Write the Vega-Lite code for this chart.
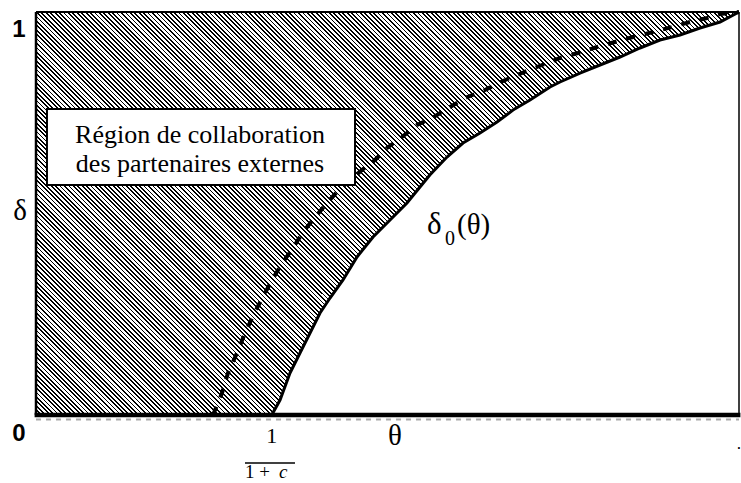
{
"$schema": "https://vega.github.io/schema/vega-lite/v6.json",
"width": 703,
"height": 403,
"autosize": {"type": "none"},
"padding": {"left": 36, "top": 12, "right": 2, "bottom": 68},
"background": "white",
"config": {"view": {"stroke": null}},
"datasets": {
"boundary": [{"theta":0,"d0":0},{"theta":0.3353,"d0":0},{"theta":0.3471,"d0":0.0372},{"theta":0.3613,"d0":0.1042},{"theta":0.3755,"d0":0.1538},{"theta":0.3898,"d0":0.2035},{"theta":0.404,"d0":0.2531},{"theta":0.4182,"d0":0.2903},{"theta":0.4367,"d0":0.335},{"theta":0.4566,"d0":0.3921},{"theta":0.4794,"d0":0.4417},{"theta":0.5036,"d0":0.4839},{"theta":0.5277,"d0":0.5261},{"theta":0.5462,"d0":0.5658},{"theta":0.5605,"d0":0.596},{"theta":0.5846,"d0":0.6402},{"theta":0.6074,"d0":0.6749},{"theta":0.6316,"d0":0.6998},{"theta":0.6558,"d0":0.727},{"theta":0.6785,"d0":0.7568},{"theta":0.7027,"d0":0.7816},{"theta":0.7312,"d0":0.8139},{"theta":0.7454,"d0":0.8263},{"theta":0.7738,"d0":0.8486},{"theta":0.8023,"d0":0.8685},{"theta":0.8307,"d0":0.8883},{"theta":0.8592,"d0":0.9107},{"theta":0.8876,"d0":0.9305},{"theta":0.9161,"d0":0.9429},{"theta":0.9445,"d0":0.9603},{"theta":0.973,"d0":0.9752},{"theta":1,"d0":1}],
"dashed": [{"theta":0.2518,"d":0},{"theta":0.2646,"d":0.0546},{"theta":0.2731,"d":0.1042},{"theta":0.2859,"d":0.1538},{"theta":0.2973,"d":0.2035},{"theta":0.3115,"d":0.2556},{"theta":0.3257,"d":0.3027},{"theta":0.34,"d":0.3474},{"theta":0.3514,"d":0.3797},{"theta":0.3656,"d":0.4144},{"theta":0.3798,"d":0.4541},{"theta":0.3997,"d":0.4963},{"theta":0.4139,"d":0.5261},{"theta":0.4282,"d":0.5533},{"theta":0.4467,"d":0.5831},{"theta":0.4637,"d":0.6079},{"theta":0.4822,"d":0.6328},{"theta":0.4993,"d":0.6625},{"theta":0.5206,"d":0.6898},{"theta":0.542,"d":0.7196},{"theta":0.5633,"d":0.737},{"theta":0.5846,"d":0.7593},{"theta":0.6102,"d":0.7866},{"theta":0.6387,"d":0.8065},{"theta":0.6643,"d":0.8288},{"theta":0.6913,"d":0.8486},{"theta":0.7198,"d":0.8685},{"theta":0.7454,"d":0.8859},{"theta":0.771,"d":0.8983},{"theta":0.798,"d":0.9132},{"theta":0.8236,"d":0.9256},{"theta":0.8492,"d":0.938},{"theta":0.8777,"d":0.9504},{"theta":0.9047,"d":0.9628},{"theta":0.9303,"d":0.9752},{"theta":0.9545,"d":0.9851},{"theta":0.973,"d":0.995},{"theta":1,"d":1}]
},
"layer": [
{
"data": {"name": "boundary"},
"mark": {"type": "area", "opacity": 1, "fillOpacity": 1, "strokeWidth": 0, "interpolate": "linear",
"fill": {"gradient": "linear", "x1": 0, "y1": 1, "x2": 1.1841, "y2": 0.3212, "stops": [
{"offset":0,"color":"#000"},
{"offset":0.0016,"color":"#000"},{"offset":0.0016,"color":"#fff"},{"offset":0.004,"color":"#fff"},{"offset":0.004,"color":"#000"},{"offset":0.0056,"color":"#000"},{"offset":0.0056,"color":"#fff"},{"offset":0.008,"color":"#fff"},{"offset":0.008,"color":"#000"},{"offset":0.0096,"color":"#000"},{"offset":0.0096,"color":"#fff"},{"offset":0.012,"color":"#fff"},{"offset":0.012,"color":"#000"},{"offset":0.0136,"color":"#000"},{"offset":0.0136,"color":"#fff"},{"offset":0.016,"color":"#fff"},{"offset":0.016,"color":"#000"},{"offset":0.0176,"color":"#000"},{"offset":0.0176,"color":"#fff"},{"offset":0.02,"color":"#fff"},{"offset":0.02,"color":"#000"},
{"offset":0.0216,"color":"#000"},{"offset":0.0216,"color":"#fff"},{"offset":0.024,"color":"#fff"},{"offset":0.024,"color":"#000"},{"offset":0.0256,"color":"#000"},{"offset":0.0256,"color":"#fff"},{"offset":0.028,"color":"#fff"},{"offset":0.028,"color":"#000"},{"offset":0.0296,"color":"#000"},{"offset":0.0296,"color":"#fff"},{"offset":0.032,"color":"#fff"},{"offset":0.032,"color":"#000"},{"offset":0.0336,"color":"#000"},{"offset":0.0336,"color":"#fff"},{"offset":0.036,"color":"#fff"},{"offset":0.036,"color":"#000"},{"offset":0.0376,"color":"#000"},{"offset":0.0376,"color":"#fff"},{"offset":0.04,"color":"#fff"},{"offset":0.04,"color":"#000"},
{"offset":0.0416,"color":"#000"},{"offset":0.0416,"color":"#fff"},{"offset":0.044,"color":"#fff"},{"offset":0.044,"color":"#000"},{"offset":0.0456,"color":"#000"},{"offset":0.0456,"color":"#fff"},{"offset":0.048,"color":"#fff"},{"offset":0.048,"color":"#000"},{"offset":0.0496,"color":"#000"},{"offset":0.0496,"color":"#fff"},{"offset":0.052,"color":"#fff"},{"offset":0.052,"color":"#000"},{"offset":0.0536,"color":"#000"},{"offset":0.0536,"color":"#fff"},{"offset":0.056,"color":"#fff"},{"offset":0.056,"color":"#000"},{"offset":0.0576,"color":"#000"},{"offset":0.0576,"color":"#fff"},{"offset":0.06,"color":"#fff"},{"offset":0.06,"color":"#000"},
{"offset":0.0616,"color":"#000"},{"offset":0.0616,"color":"#fff"},{"offset":0.064,"color":"#fff"},{"offset":0.064,"color":"#000"},{"offset":0.0656,"color":"#000"},{"offset":0.0656,"color":"#fff"},{"offset":0.068,"color":"#fff"},{"offset":0.068,"color":"#000"},{"offset":0.0696,"color":"#000"},{"offset":0.0696,"color":"#fff"},{"offset":0.072,"color":"#fff"},{"offset":0.072,"color":"#000"},{"offset":0.0736,"color":"#000"},{"offset":0.0736,"color":"#fff"},{"offset":0.076,"color":"#fff"},{"offset":0.076,"color":"#000"},{"offset":0.0776,"color":"#000"},{"offset":0.0776,"color":"#fff"},{"offset":0.08,"color":"#fff"},{"offset":0.08,"color":"#000"},
{"offset":0.0816,"color":"#000"},{"offset":0.0816,"color":"#fff"},{"offset":0.084,"color":"#fff"},{"offset":0.084,"color":"#000"},{"offset":0.0856,"color":"#000"},{"offset":0.0856,"color":"#fff"},{"offset":0.088,"color":"#fff"},{"offset":0.088,"color":"#000"},{"offset":0.0896,"color":"#000"},{"offset":0.0896,"color":"#fff"},{"offset":0.092,"color":"#fff"},{"offset":0.092,"color":"#000"},{"offset":0.0936,"color":"#000"},{"offset":0.0936,"color":"#fff"},{"offset":0.096,"color":"#fff"},{"offset":0.096,"color":"#000"},{"offset":0.0976,"color":"#000"},{"offset":0.0976,"color":"#fff"},{"offset":0.1,"color":"#fff"},{"offset":0.1,"color":"#000"},
{"offset":0.1016,"color":"#000"},{"offset":0.1016,"color":"#fff"},{"offset":0.104,"color":"#fff"},{"offset":0.104,"color":"#000"},{"offset":0.1056,"color":"#000"},{"offset":0.1056,"color":"#fff"},{"offset":0.108,"color":"#fff"},{"offset":0.108,"color":"#000"},{"offset":0.1096,"color":"#000"},{"offset":0.1096,"color":"#fff"},{"offset":0.112,"color":"#fff"},{"offset":0.112,"color":"#000"},{"offset":0.1136,"color":"#000"},{"offset":0.1136,"color":"#fff"},{"offset":0.116,"color":"#fff"},{"offset":0.116,"color":"#000"},{"offset":0.1176,"color":"#000"},{"offset":0.1176,"color":"#fff"},{"offset":0.12,"color":"#fff"},{"offset":0.12,"color":"#000"},
{"offset":0.1216,"color":"#000"},{"offset":0.1216,"color":"#fff"},{"offset":0.124,"color":"#fff"},{"offset":0.124,"color":"#000"},{"offset":0.1256,"color":"#000"},{"offset":0.1256,"color":"#fff"},{"offset":0.128,"color":"#fff"},{"offset":0.128,"color":"#000"},{"offset":0.1296,"color":"#000"},{"offset":0.1296,"color":"#fff"},{"offset":0.132,"color":"#fff"},{"offset":0.132,"color":"#000"},{"offset":0.1336,"color":"#000"},{"offset":0.1336,"color":"#fff"},{"offset":0.136,"color":"#fff"},{"offset":0.136,"color":"#000"},{"offset":0.1376,"color":"#000"},{"offset":0.1376,"color":"#fff"},{"offset":0.14,"color":"#fff"},{"offset":0.14,"color":"#000"},
{"offset":0.1416,"color":"#000"},{"offset":0.1416,"color":"#fff"},{"offset":0.144,"color":"#fff"},{"offset":0.144,"color":"#000"},{"offset":0.1456,"color":"#000"},{"offset":0.1456,"color":"#fff"},{"offset":0.148,"color":"#fff"},{"offset":0.148,"color":"#000"},{"offset":0.1496,"color":"#000"},{"offset":0.1496,"color":"#fff"},{"offset":0.152,"color":"#fff"},{"offset":0.152,"color":"#000"},{"offset":0.1536,"color":"#000"},{"offset":0.1536,"color":"#fff"},{"offset":0.156,"color":"#fff"},{"offset":0.156,"color":"#000"},{"offset":0.1576,"color":"#000"},{"offset":0.1576,"color":"#fff"},{"offset":0.16,"color":"#fff"},{"offset":0.16,"color":"#000"},
{"offset":0.1616,"color":"#000"},{"offset":0.1616,"color":"#fff"},{"offset":0.164,"color":"#fff"},{"offset":0.164,"color":"#000"},{"offset":0.1656,"color":"#000"},{"offset":0.1656,"color":"#fff"},{"offset":0.168,"color":"#fff"},{"offset":0.168,"color":"#000"},{"offset":0.1696,"color":"#000"},{"offset":0.1696,"color":"#fff"},{"offset":0.172,"color":"#fff"},{"offset":0.172,"color":"#000"},{"offset":0.1736,"color":"#000"},{"offset":0.1736,"color":"#fff"},{"offset":0.176,"color":"#fff"},{"offset":0.176,"color":"#000"},{"offset":0.1776,"color":"#000"},{"offset":0.1776,"color":"#fff"},{"offset":0.18,"color":"#fff"},{"offset":0.18,"color":"#000"},
{"offset":0.1816,"color":"#000"},{"offset":0.1816,"color":"#fff"},{"offset":0.184,"color":"#fff"},{"offset":0.184,"color":"#000"},{"offset":0.1856,"color":"#000"},{"offset":0.1856,"color":"#fff"},{"offset":0.188,"color":"#fff"},{"offset":0.188,"color":"#000"},{"offset":0.1896,"color":"#000"},{"offset":0.1896,"color":"#fff"},{"offset":0.192,"color":"#fff"},{"offset":0.192,"color":"#000"},{"offset":0.1936,"color":"#000"},{"offset":0.1936,"color":"#fff"},{"offset":0.196,"color":"#fff"},{"offset":0.196,"color":"#000"},{"offset":0.1976,"color":"#000"},{"offset":0.1976,"color":"#fff"},{"offset":0.2,"color":"#fff"},{"offset":0.2,"color":"#000"},
{"offset":0.2016,"color":"#000"},{"offset":0.2016,"color":"#fff"},{"offset":0.204,"color":"#fff"},{"offset":0.204,"color":"#000"},{"offset":0.2056,"color":"#000"},{"offset":0.2056,"color":"#fff"},{"offset":0.208,"color":"#fff"},{"offset":0.208,"color":"#000"},{"offset":0.2096,"color":"#000"},{"offset":0.2096,"color":"#fff"},{"offset":0.212,"color":"#fff"},{"offset":0.212,"color":"#000"},{"offset":0.2136,"color":"#000"},{"offset":0.2136,"color":"#fff"},{"offset":0.216,"color":"#fff"},{"offset":0.216,"color":"#000"},{"offset":0.2176,"color":"#000"},{"offset":0.2176,"color":"#fff"},{"offset":0.22,"color":"#fff"},{"offset":0.22,"color":"#000"},
{"offset":0.2216,"color":"#000"},{"offset":0.2216,"color":"#fff"},{"offset":0.224,"color":"#fff"},{"offset":0.224,"color":"#000"},{"offset":0.2256,"color":"#000"},{"offset":0.2256,"color":"#fff"},{"offset":0.228,"color":"#fff"},{"offset":0.228,"color":"#000"},{"offset":0.2296,"color":"#000"},{"offset":0.2296,"color":"#fff"},{"offset":0.232,"color":"#fff"},{"offset":0.232,"color":"#000"},{"offset":0.2336,"color":"#000"},{"offset":0.2336,"color":"#fff"},{"offset":0.236,"color":"#fff"},{"offset":0.236,"color":"#000"},{"offset":0.2376,"color":"#000"},{"offset":0.2376,"color":"#fff"},{"offset":0.24,"color":"#fff"},{"offset":0.24,"color":"#000"},
{"offset":0.2416,"color":"#000"},{"offset":0.2416,"color":"#fff"},{"offset":0.244,"color":"#fff"},{"offset":0.244,"color":"#000"},{"offset":0.2456,"color":"#000"},{"offset":0.2456,"color":"#fff"},{"offset":0.248,"color":"#fff"},{"offset":0.248,"color":"#000"},{"offset":0.2496,"color":"#000"},{"offset":0.2496,"color":"#fff"},{"offset":0.252,"color":"#fff"},{"offset":0.252,"color":"#000"},{"offset":0.2536,"color":"#000"},{"offset":0.2536,"color":"#fff"},{"offset":0.256,"color":"#fff"},{"offset":0.256,"color":"#000"},{"offset":0.2576,"color":"#000"},{"offset":0.2576,"color":"#fff"},{"offset":0.26,"color":"#fff"},{"offset":0.26,"color":"#000"},
{"offset":0.2616,"color":"#000"},{"offset":0.2616,"color":"#fff"},{"offset":0.264,"color":"#fff"},{"offset":0.264,"color":"#000"},{"offset":0.2656,"color":"#000"},{"offset":0.2656,"color":"#fff"},{"offset":0.268,"color":"#fff"},{"offset":0.268,"color":"#000"},{"offset":0.2696,"color":"#000"},{"offset":0.2696,"color":"#fff"},{"offset":0.272,"color":"#fff"},{"offset":0.272,"color":"#000"},{"offset":0.2736,"color":"#000"},{"offset":0.2736,"color":"#fff"},{"offset":0.276,"color":"#fff"},{"offset":0.276,"color":"#000"},{"offset":0.2776,"color":"#000"},{"offset":0.2776,"color":"#fff"},{"offset":0.28,"color":"#fff"},{"offset":0.28,"color":"#000"},
{"offset":0.2816,"color":"#000"},{"offset":0.2816,"color":"#fff"},{"offset":0.284,"color":"#fff"},{"offset":0.284,"color":"#000"},{"offset":0.2856,"color":"#000"},{"offset":0.2856,"color":"#fff"},{"offset":0.288,"color":"#fff"},{"offset":0.288,"color":"#000"},{"offset":0.2896,"color":"#000"},{"offset":0.2896,"color":"#fff"},{"offset":0.292,"color":"#fff"},{"offset":0.292,"color":"#000"},{"offset":0.2936,"color":"#000"},{"offset":0.2936,"color":"#fff"},{"offset":0.296,"color":"#fff"},{"offset":0.296,"color":"#000"},{"offset":0.2976,"color":"#000"},{"offset":0.2976,"color":"#fff"},{"offset":0.3,"color":"#fff"},{"offset":0.3,"color":"#000"},
{"offset":0.3016,"color":"#000"},{"offset":0.3016,"color":"#fff"},{"offset":0.304,"color":"#fff"},{"offset":0.304,"color":"#000"},{"offset":0.3056,"color":"#000"},{"offset":0.3056,"color":"#fff"},{"offset":0.308,"color":"#fff"},{"offset":0.308,"color":"#000"},{"offset":0.3096,"color":"#000"},{"offset":0.3096,"color":"#fff"},{"offset":0.312,"color":"#fff"},{"offset":0.312,"color":"#000"},{"offset":0.3136,"color":"#000"},{"offset":0.3136,"color":"#fff"},{"offset":0.316,"color":"#fff"},{"offset":0.316,"color":"#000"},{"offset":0.3176,"color":"#000"},{"offset":0.3176,"color":"#fff"},{"offset":0.32,"color":"#fff"},{"offset":0.32,"color":"#000"},
{"offset":0.3216,"color":"#000"},{"offset":0.3216,"color":"#fff"},{"offset":0.324,"color":"#fff"},{"offset":0.324,"color":"#000"},{"offset":0.3256,"color":"#000"},{"offset":0.3256,"color":"#fff"},{"offset":0.328,"color":"#fff"},{"offset":0.328,"color":"#000"},{"offset":0.3296,"color":"#000"},{"offset":0.3296,"color":"#fff"},{"offset":0.332,"color":"#fff"},{"offset":0.332,"color":"#000"},{"offset":0.3336,"color":"#000"},{"offset":0.3336,"color":"#fff"},{"offset":0.336,"color":"#fff"},{"offset":0.336,"color":"#000"},{"offset":0.3376,"color":"#000"},{"offset":0.3376,"color":"#fff"},{"offset":0.34,"color":"#fff"},{"offset":0.34,"color":"#000"},
{"offset":0.3416,"color":"#000"},{"offset":0.3416,"color":"#fff"},{"offset":0.344,"color":"#fff"},{"offset":0.344,"color":"#000"},{"offset":0.3456,"color":"#000"},{"offset":0.3456,"color":"#fff"},{"offset":0.348,"color":"#fff"},{"offset":0.348,"color":"#000"},{"offset":0.3496,"color":"#000"},{"offset":0.3496,"color":"#fff"},{"offset":0.352,"color":"#fff"},{"offset":0.352,"color":"#000"},{"offset":0.3536,"color":"#000"},{"offset":0.3536,"color":"#fff"},{"offset":0.356,"color":"#fff"},{"offset":0.356,"color":"#000"},{"offset":0.3576,"color":"#000"},{"offset":0.3576,"color":"#fff"},{"offset":0.36,"color":"#fff"},{"offset":0.36,"color":"#000"},
{"offset":0.3616,"color":"#000"},{"offset":0.3616,"color":"#fff"},{"offset":0.364,"color":"#fff"},{"offset":0.364,"color":"#000"},{"offset":0.3656,"color":"#000"},{"offset":0.3656,"color":"#fff"},{"offset":0.368,"color":"#fff"},{"offset":0.368,"color":"#000"},{"offset":0.3696,"color":"#000"},{"offset":0.3696,"color":"#fff"},{"offset":0.372,"color":"#fff"},{"offset":0.372,"color":"#000"},{"offset":0.3736,"color":"#000"},{"offset":0.3736,"color":"#fff"},{"offset":0.376,"color":"#fff"},{"offset":0.376,"color":"#000"},{"offset":0.3776,"color":"#000"},{"offset":0.3776,"color":"#fff"},{"offset":0.38,"color":"#fff"},{"offset":0.38,"color":"#000"},
{"offset":0.3816,"color":"#000"},{"offset":0.3816,"color":"#fff"},{"offset":0.384,"color":"#fff"},{"offset":0.384,"color":"#000"},{"offset":0.3856,"color":"#000"},{"offset":0.3856,"color":"#fff"},{"offset":0.388,"color":"#fff"},{"offset":0.388,"color":"#000"},{"offset":0.3896,"color":"#000"},{"offset":0.3896,"color":"#fff"},{"offset":0.392,"color":"#fff"},{"offset":0.392,"color":"#000"},{"offset":0.3936,"color":"#000"},{"offset":0.3936,"color":"#fff"},{"offset":0.396,"color":"#fff"},{"offset":0.396,"color":"#000"},{"offset":0.3976,"color":"#000"},{"offset":0.3976,"color":"#fff"},{"offset":0.4,"color":"#fff"},{"offset":0.4,"color":"#000"},
{"offset":0.4016,"color":"#000"},{"offset":0.4016,"color":"#fff"},{"offset":0.404,"color":"#fff"},{"offset":0.404,"color":"#000"},{"offset":0.4056,"color":"#000"},{"offset":0.4056,"color":"#fff"},{"offset":0.408,"color":"#fff"},{"offset":0.408,"color":"#000"},{"offset":0.4096,"color":"#000"},{"offset":0.4096,"color":"#fff"},{"offset":0.412,"color":"#fff"},{"offset":0.412,"color":"#000"},{"offset":0.4136,"color":"#000"},{"offset":0.4136,"color":"#fff"},{"offset":0.416,"color":"#fff"},{"offset":0.416,"color":"#000"},{"offset":0.4176,"color":"#000"},{"offset":0.4176,"color":"#fff"},{"offset":0.42,"color":"#fff"},{"offset":0.42,"color":"#000"},
{"offset":0.4216,"color":"#000"},{"offset":0.4216,"color":"#fff"},{"offset":0.424,"color":"#fff"},{"offset":0.424,"color":"#000"},{"offset":0.4256,"color":"#000"},{"offset":0.4256,"color":"#fff"},{"offset":0.428,"color":"#fff"},{"offset":0.428,"color":"#000"},{"offset":0.4296,"color":"#000"},{"offset":0.4296,"color":"#fff"},{"offset":0.432,"color":"#fff"},{"offset":0.432,"color":"#000"},{"offset":0.4336,"color":"#000"},{"offset":0.4336,"color":"#fff"},{"offset":0.436,"color":"#fff"},{"offset":0.436,"color":"#000"},{"offset":0.4376,"color":"#000"},{"offset":0.4376,"color":"#fff"},{"offset":0.44,"color":"#fff"},{"offset":0.44,"color":"#000"},
{"offset":0.4416,"color":"#000"},{"offset":0.4416,"color":"#fff"},{"offset":0.444,"color":"#fff"},{"offset":0.444,"color":"#000"},{"offset":0.4456,"color":"#000"},{"offset":0.4456,"color":"#fff"},{"offset":0.448,"color":"#fff"},{"offset":0.448,"color":"#000"},{"offset":0.4496,"color":"#000"},{"offset":0.4496,"color":"#fff"},{"offset":0.452,"color":"#fff"},{"offset":0.452,"color":"#000"},{"offset":0.4536,"color":"#000"},{"offset":0.4536,"color":"#fff"},{"offset":0.456,"color":"#fff"},{"offset":0.456,"color":"#000"},{"offset":0.4576,"color":"#000"},{"offset":0.4576,"color":"#fff"},{"offset":0.46,"color":"#fff"},{"offset":0.46,"color":"#000"},
{"offset":0.4616,"color":"#000"},{"offset":0.4616,"color":"#fff"},{"offset":0.464,"color":"#fff"},{"offset":0.464,"color":"#000"},{"offset":0.4656,"color":"#000"},{"offset":0.4656,"color":"#fff"},{"offset":0.468,"color":"#fff"},{"offset":0.468,"color":"#000"},{"offset":0.4696,"color":"#000"},{"offset":0.4696,"color":"#fff"},{"offset":0.472,"color":"#fff"},{"offset":0.472,"color":"#000"},{"offset":0.4736,"color":"#000"},{"offset":0.4736,"color":"#fff"},{"offset":0.476,"color":"#fff"},{"offset":0.476,"color":"#000"},{"offset":0.4776,"color":"#000"},{"offset":0.4776,"color":"#fff"},{"offset":0.48,"color":"#fff"},{"offset":0.48,"color":"#000"},
{"offset":0.4816,"color":"#000"},{"offset":0.4816,"color":"#fff"},{"offset":0.484,"color":"#fff"},{"offset":0.484,"color":"#000"},{"offset":0.4856,"color":"#000"},{"offset":0.4856,"color":"#fff"},{"offset":0.488,"color":"#fff"},{"offset":0.488,"color":"#000"},{"offset":0.4896,"color":"#000"},{"offset":0.4896,"color":"#fff"},{"offset":0.492,"color":"#fff"},{"offset":0.492,"color":"#000"},{"offset":0.4936,"color":"#000"},{"offset":0.4936,"color":"#fff"},{"offset":0.496,"color":"#fff"},{"offset":0.496,"color":"#000"},{"offset":0.4976,"color":"#000"},{"offset":0.4976,"color":"#fff"},{"offset":0.5,"color":"#fff"},{"offset":0.5,"color":"#000"},
{"offset":0.5016,"color":"#000"},{"offset":0.5016,"color":"#fff"},{"offset":0.504,"color":"#fff"},{"offset":0.504,"color":"#000"},{"offset":0.5056,"color":"#000"},{"offset":0.5056,"color":"#fff"},{"offset":0.508,"color":"#fff"},{"offset":0.508,"color":"#000"},{"offset":0.5096,"color":"#000"},{"offset":0.5096,"color":"#fff"},{"offset":0.512,"color":"#fff"},{"offset":0.512,"color":"#000"},{"offset":0.5136,"color":"#000"},{"offset":0.5136,"color":"#fff"},{"offset":0.516,"color":"#fff"},{"offset":0.516,"color":"#000"},{"offset":0.5176,"color":"#000"},{"offset":0.5176,"color":"#fff"},{"offset":0.52,"color":"#fff"},{"offset":0.52,"color":"#000"},
{"offset":0.5216,"color":"#000"},{"offset":0.5216,"color":"#fff"},{"offset":0.524,"color":"#fff"},{"offset":0.524,"color":"#000"},{"offset":0.5256,"color":"#000"},{"offset":0.5256,"color":"#fff"},{"offset":0.528,"color":"#fff"},{"offset":0.528,"color":"#000"},{"offset":0.5296,"color":"#000"},{"offset":0.5296,"color":"#fff"},{"offset":0.532,"color":"#fff"},{"offset":0.532,"color":"#000"},{"offset":0.5336,"color":"#000"},{"offset":0.5336,"color":"#fff"},{"offset":0.536,"color":"#fff"},{"offset":0.536,"color":"#000"},{"offset":0.5376,"color":"#000"},{"offset":0.5376,"color":"#fff"},{"offset":0.54,"color":"#fff"},{"offset":0.54,"color":"#000"},
{"offset":0.5416,"color":"#000"},{"offset":0.5416,"color":"#fff"},{"offset":0.544,"color":"#fff"},{"offset":0.544,"color":"#000"},{"offset":0.5456,"color":"#000"},{"offset":0.5456,"color":"#fff"},{"offset":0.548,"color":"#fff"},{"offset":0.548,"color":"#000"},{"offset":0.5496,"color":"#000"},{"offset":0.5496,"color":"#fff"},{"offset":0.552,"color":"#fff"},{"offset":0.552,"color":"#000"},{"offset":0.5536,"color":"#000"},{"offset":0.5536,"color":"#fff"},{"offset":0.556,"color":"#fff"},{"offset":0.556,"color":"#000"},{"offset":0.5576,"color":"#000"},{"offset":0.5576,"color":"#fff"},{"offset":0.56,"color":"#fff"},{"offset":0.56,"color":"#000"},
{"offset":0.5616,"color":"#000"},{"offset":0.5616,"color":"#fff"},{"offset":0.564,"color":"#fff"},{"offset":0.564,"color":"#000"},{"offset":0.5656,"color":"#000"},{"offset":0.5656,"color":"#fff"},{"offset":0.568,"color":"#fff"},{"offset":0.568,"color":"#000"},{"offset":0.5696,"color":"#000"},{"offset":0.5696,"color":"#fff"},{"offset":0.572,"color":"#fff"},{"offset":0.572,"color":"#000"},{"offset":0.5736,"color":"#000"},{"offset":0.5736,"color":"#fff"},{"offset":0.576,"color":"#fff"},{"offset":0.576,"color":"#000"},{"offset":0.5776,"color":"#000"},{"offset":0.5776,"color":"#fff"},{"offset":0.58,"color":"#fff"},{"offset":0.58,"color":"#000"},
{"offset":0.5816,"color":"#000"},{"offset":0.5816,"color":"#fff"},{"offset":0.584,"color":"#fff"},{"offset":0.584,"color":"#000"},{"offset":0.5856,"color":"#000"},{"offset":0.5856,"color":"#fff"},{"offset":0.588,"color":"#fff"},{"offset":0.588,"color":"#000"},{"offset":0.5896,"color":"#000"},{"offset":0.5896,"color":"#fff"},{"offset":0.592,"color":"#fff"},{"offset":0.592,"color":"#000"},{"offset":0.5936,"color":"#000"},{"offset":0.5936,"color":"#fff"},{"offset":0.596,"color":"#fff"},{"offset":0.596,"color":"#000"},{"offset":0.5976,"color":"#000"},{"offset":0.5976,"color":"#fff"},{"offset":0.6,"color":"#fff"},{"offset":0.6,"color":"#000"},
{"offset":0.6016,"color":"#000"},{"offset":0.6016,"color":"#fff"},{"offset":0.604,"color":"#fff"},{"offset":0.604,"color":"#000"},{"offset":0.6056,"color":"#000"},{"offset":0.6056,"color":"#fff"},{"offset":0.608,"color":"#fff"},{"offset":0.608,"color":"#000"},{"offset":0.6096,"color":"#000"},{"offset":0.6096,"color":"#fff"},{"offset":0.612,"color":"#fff"},{"offset":0.612,"color":"#000"},{"offset":0.6136,"color":"#000"},{"offset":0.6136,"color":"#fff"},{"offset":0.616,"color":"#fff"},{"offset":0.616,"color":"#000"},{"offset":0.6176,"color":"#000"},{"offset":0.6176,"color":"#fff"},{"offset":0.62,"color":"#fff"},{"offset":0.62,"color":"#000"},
{"offset":0.6216,"color":"#000"},{"offset":0.6216,"color":"#fff"},{"offset":0.624,"color":"#fff"},{"offset":0.624,"color":"#000"},{"offset":0.6256,"color":"#000"},{"offset":0.6256,"color":"#fff"},{"offset":0.628,"color":"#fff"},{"offset":0.628,"color":"#000"},{"offset":0.6296,"color":"#000"},{"offset":0.6296,"color":"#fff"},{"offset":0.632,"color":"#fff"},{"offset":0.632,"color":"#000"},{"offset":0.6336,"color":"#000"},{"offset":0.6336,"color":"#fff"},{"offset":0.636,"color":"#fff"},{"offset":0.636,"color":"#000"},{"offset":0.6376,"color":"#000"},{"offset":0.6376,"color":"#fff"},{"offset":0.64,"color":"#fff"},{"offset":0.64,"color":"#000"},
{"offset":0.6416,"color":"#000"},{"offset":0.6416,"color":"#fff"},{"offset":0.644,"color":"#fff"},{"offset":0.644,"color":"#000"},{"offset":0.6456,"color":"#000"},{"offset":0.6456,"color":"#fff"},{"offset":0.648,"color":"#fff"},{"offset":0.648,"color":"#000"},{"offset":0.6496,"color":"#000"},{"offset":0.6496,"color":"#fff"},{"offset":0.652,"color":"#fff"},{"offset":0.652,"color":"#000"},{"offset":0.6536,"color":"#000"},{"offset":0.6536,"color":"#fff"},{"offset":0.656,"color":"#fff"},{"offset":0.656,"color":"#000"},{"offset":0.6576,"color":"#000"},{"offset":0.6576,"color":"#fff"},{"offset":0.66,"color":"#fff"},{"offset":0.66,"color":"#000"},
{"offset":0.6616,"color":"#000"},{"offset":0.6616,"color":"#fff"},{"offset":0.664,"color":"#fff"},{"offset":0.664,"color":"#000"},{"offset":0.6656,"color":"#000"},{"offset":0.6656,"color":"#fff"},{"offset":0.668,"color":"#fff"},{"offset":0.668,"color":"#000"},{"offset":0.6696,"color":"#000"},{"offset":0.6696,"color":"#fff"},{"offset":0.672,"color":"#fff"},{"offset":0.672,"color":"#000"},{"offset":0.6736,"color":"#000"},{"offset":0.6736,"color":"#fff"},{"offset":0.676,"color":"#fff"},{"offset":0.676,"color":"#000"},{"offset":0.6776,"color":"#000"},{"offset":0.6776,"color":"#fff"},{"offset":0.68,"color":"#fff"},{"offset":0.68,"color":"#000"},
{"offset":0.6816,"color":"#000"},{"offset":0.6816,"color":"#fff"},{"offset":0.684,"color":"#fff"},{"offset":0.684,"color":"#000"},{"offset":0.6856,"color":"#000"},{"offset":0.6856,"color":"#fff"},{"offset":0.688,"color":"#fff"},{"offset":0.688,"color":"#000"},{"offset":0.6896,"color":"#000"},{"offset":0.6896,"color":"#fff"},{"offset":0.692,"color":"#fff"},{"offset":0.692,"color":"#000"},{"offset":0.6936,"color":"#000"},{"offset":0.6936,"color":"#fff"},{"offset":0.696,"color":"#fff"},{"offset":0.696,"color":"#000"},{"offset":0.6976,"color":"#000"},{"offset":0.6976,"color":"#fff"},{"offset":0.7,"color":"#fff"},{"offset":0.7,"color":"#000"},
{"offset":0.7016,"color":"#000"},{"offset":0.7016,"color":"#fff"},{"offset":0.704,"color":"#fff"},{"offset":0.704,"color":"#000"},{"offset":0.7056,"color":"#000"},{"offset":0.7056,"color":"#fff"},{"offset":0.708,"color":"#fff"},{"offset":0.708,"color":"#000"},{"offset":0.7096,"color":"#000"},{"offset":0.7096,"color":"#fff"},{"offset":0.712,"color":"#fff"},{"offset":0.712,"color":"#000"},{"offset":0.7136,"color":"#000"},{"offset":0.7136,"color":"#fff"},{"offset":0.716,"color":"#fff"},{"offset":0.716,"color":"#000"},{"offset":0.7176,"color":"#000"},{"offset":0.7176,"color":"#fff"},{"offset":0.72,"color":"#fff"},{"offset":0.72,"color":"#000"},
{"offset":0.7216,"color":"#000"},{"offset":0.7216,"color":"#fff"},{"offset":0.724,"color":"#fff"},{"offset":0.724,"color":"#000"},{"offset":0.7256,"color":"#000"},{"offset":0.7256,"color":"#fff"},{"offset":0.728,"color":"#fff"},{"offset":0.728,"color":"#000"},{"offset":0.7296,"color":"#000"},{"offset":0.7296,"color":"#fff"},{"offset":0.732,"color":"#fff"},{"offset":0.732,"color":"#000"},{"offset":0.7336,"color":"#000"},{"offset":0.7336,"color":"#fff"},{"offset":0.736,"color":"#fff"},{"offset":0.736,"color":"#000"},{"offset":0.7376,"color":"#000"},{"offset":0.7376,"color":"#fff"},{"offset":0.74,"color":"#fff"},{"offset":0.74,"color":"#000"},
{"offset":0.7416,"color":"#000"},{"offset":0.7416,"color":"#fff"},{"offset":0.744,"color":"#fff"},{"offset":0.744,"color":"#000"},{"offset":0.7456,"color":"#000"},{"offset":0.7456,"color":"#fff"},{"offset":0.748,"color":"#fff"},{"offset":0.748,"color":"#000"},{"offset":0.7496,"color":"#000"},{"offset":0.7496,"color":"#fff"},{"offset":0.752,"color":"#fff"},{"offset":0.752,"color":"#000"},{"offset":0.7536,"color":"#000"},{"offset":0.7536,"color":"#fff"},{"offset":0.756,"color":"#fff"},{"offset":0.756,"color":"#000"},{"offset":0.7576,"color":"#000"},{"offset":0.7576,"color":"#fff"},{"offset":0.76,"color":"#fff"},{"offset":0.76,"color":"#000"},
{"offset":0.7616,"color":"#000"},{"offset":0.7616,"color":"#fff"},{"offset":0.764,"color":"#fff"},{"offset":0.764,"color":"#000"},{"offset":0.7656,"color":"#000"},{"offset":0.7656,"color":"#fff"},{"offset":0.768,"color":"#fff"},{"offset":0.768,"color":"#000"},{"offset":0.7696,"color":"#000"},{"offset":0.7696,"color":"#fff"},{"offset":0.772,"color":"#fff"},{"offset":0.772,"color":"#000"},{"offset":0.7736,"color":"#000"},{"offset":0.7736,"color":"#fff"},{"offset":0.776,"color":"#fff"},{"offset":0.776,"color":"#000"},{"offset":0.7776,"color":"#000"},{"offset":0.7776,"color":"#fff"},{"offset":0.78,"color":"#fff"},{"offset":0.78,"color":"#000"},
{"offset":0.7816,"color":"#000"},{"offset":0.7816,"color":"#fff"},{"offset":0.784,"color":"#fff"},{"offset":0.784,"color":"#000"},{"offset":0.7856,"color":"#000"},{"offset":0.7856,"color":"#fff"},{"offset":0.788,"color":"#fff"},{"offset":0.788,"color":"#000"},{"offset":0.7896,"color":"#000"},{"offset":0.7896,"color":"#fff"},{"offset":0.792,"color":"#fff"},{"offset":0.792,"color":"#000"},{"offset":0.7936,"color":"#000"},{"offset":0.7936,"color":"#fff"},{"offset":0.796,"color":"#fff"},{"offset":0.796,"color":"#000"},{"offset":0.7976,"color":"#000"},{"offset":0.7976,"color":"#fff"},{"offset":0.8,"color":"#fff"},{"offset":0.8,"color":"#000"},
{"offset":0.8016,"color":"#000"},{"offset":0.8016,"color":"#fff"},{"offset":0.804,"color":"#fff"},{"offset":0.804,"color":"#000"},{"offset":0.8056,"color":"#000"},{"offset":0.8056,"color":"#fff"},{"offset":0.808,"color":"#fff"},{"offset":0.808,"color":"#000"},{"offset":0.8096,"color":"#000"},{"offset":0.8096,"color":"#fff"},{"offset":0.812,"color":"#fff"},{"offset":0.812,"color":"#000"},{"offset":0.8136,"color":"#000"},{"offset":0.8136,"color":"#fff"},{"offset":0.816,"color":"#fff"},{"offset":0.816,"color":"#000"},{"offset":0.8176,"color":"#000"},{"offset":0.8176,"color":"#fff"},{"offset":0.82,"color":"#fff"},{"offset":0.82,"color":"#000"},
{"offset":0.8216,"color":"#000"},{"offset":0.8216,"color":"#fff"},{"offset":0.824,"color":"#fff"},{"offset":0.824,"color":"#000"},{"offset":0.8256,"color":"#000"},{"offset":0.8256,"color":"#fff"},{"offset":0.828,"color":"#fff"},{"offset":0.828,"color":"#000"},{"offset":0.8296,"color":"#000"},{"offset":0.8296,"color":"#fff"},{"offset":0.832,"color":"#fff"},{"offset":0.832,"color":"#000"},{"offset":0.8336,"color":"#000"},{"offset":0.8336,"color":"#fff"},{"offset":0.836,"color":"#fff"},{"offset":0.836,"color":"#000"},{"offset":0.8376,"color":"#000"},{"offset":0.8376,"color":"#fff"},{"offset":0.84,"color":"#fff"},{"offset":0.84,"color":"#000"},
{"offset":0.8416,"color":"#000"},{"offset":0.8416,"color":"#fff"},{"offset":0.844,"color":"#fff"},{"offset":0.844,"color":"#000"},{"offset":0.8456,"color":"#000"},{"offset":0.8456,"color":"#fff"},{"offset":0.848,"color":"#fff"},{"offset":0.848,"color":"#000"},{"offset":0.8496,"color":"#000"},{"offset":0.8496,"color":"#fff"},{"offset":0.852,"color":"#fff"},{"offset":0.852,"color":"#000"},{"offset":0.8536,"color":"#000"},{"offset":0.8536,"color":"#fff"},{"offset":0.856,"color":"#fff"},{"offset":0.856,"color":"#000"},{"offset":0.8576,"color":"#000"},{"offset":0.8576,"color":"#fff"},{"offset":0.86,"color":"#fff"},{"offset":0.86,"color":"#000"},
{"offset":0.8616,"color":"#000"},{"offset":0.8616,"color":"#fff"},{"offset":0.864,"color":"#fff"},{"offset":0.864,"color":"#000"},{"offset":0.8656,"color":"#000"},{"offset":0.8656,"color":"#fff"},{"offset":0.868,"color":"#fff"},{"offset":0.868,"color":"#000"},{"offset":0.8696,"color":"#000"},{"offset":0.8696,"color":"#fff"},{"offset":0.872,"color":"#fff"},{"offset":0.872,"color":"#000"},{"offset":0.8736,"color":"#000"},{"offset":0.8736,"color":"#fff"},{"offset":0.876,"color":"#fff"},{"offset":0.876,"color":"#000"},{"offset":0.8776,"color":"#000"},{"offset":0.8776,"color":"#fff"},{"offset":0.88,"color":"#fff"},{"offset":0.88,"color":"#000"},
{"offset":0.8816,"color":"#000"},{"offset":0.8816,"color":"#fff"},{"offset":0.884,"color":"#fff"},{"offset":0.884,"color":"#000"},{"offset":0.8856,"color":"#000"},{"offset":0.8856,"color":"#fff"},{"offset":0.888,"color":"#fff"},{"offset":0.888,"color":"#000"},{"offset":0.8896,"color":"#000"},{"offset":0.8896,"color":"#fff"},{"offset":0.892,"color":"#fff"},{"offset":0.892,"color":"#000"},{"offset":0.8936,"color":"#000"},{"offset":0.8936,"color":"#fff"},{"offset":0.896,"color":"#fff"},{"offset":0.896,"color":"#000"},{"offset":0.8976,"color":"#000"},{"offset":0.8976,"color":"#fff"},{"offset":0.9,"color":"#fff"},{"offset":0.9,"color":"#000"},
{"offset":0.9016,"color":"#000"},{"offset":0.9016,"color":"#fff"},{"offset":0.904,"color":"#fff"},{"offset":0.904,"color":"#000"},{"offset":0.9056,"color":"#000"},{"offset":0.9056,"color":"#fff"},{"offset":0.908,"color":"#fff"},{"offset":0.908,"color":"#000"},{"offset":0.9096,"color":"#000"},{"offset":0.9096,"color":"#fff"},{"offset":0.912,"color":"#fff"},{"offset":0.912,"color":"#000"},{"offset":0.9136,"color":"#000"},{"offset":0.9136,"color":"#fff"},{"offset":0.916,"color":"#fff"},{"offset":0.916,"color":"#000"},{"offset":0.9176,"color":"#000"},{"offset":0.9176,"color":"#fff"},{"offset":0.92,"color":"#fff"},{"offset":0.92,"color":"#000"},
{"offset":0.9216,"color":"#000"},{"offset":0.9216,"color":"#fff"},{"offset":0.924,"color":"#fff"},{"offset":0.924,"color":"#000"},{"offset":0.9256,"color":"#000"},{"offset":0.9256,"color":"#fff"},{"offset":0.928,"color":"#fff"},{"offset":0.928,"color":"#000"},{"offset":0.9296,"color":"#000"},{"offset":0.9296,"color":"#fff"},{"offset":0.932,"color":"#fff"},{"offset":0.932,"color":"#000"},{"offset":0.9336,"color":"#000"},{"offset":0.9336,"color":"#fff"},{"offset":0.936,"color":"#fff"},{"offset":0.936,"color":"#000"},{"offset":0.9376,"color":"#000"},{"offset":0.9376,"color":"#fff"},{"offset":0.94,"color":"#fff"},{"offset":0.94,"color":"#000"},
{"offset":0.9416,"color":"#000"},{"offset":0.9416,"color":"#fff"},{"offset":0.944,"color":"#fff"},{"offset":0.944,"color":"#000"},{"offset":0.9456,"color":"#000"},{"offset":0.9456,"color":"#fff"},{"offset":0.948,"color":"#fff"},{"offset":0.948,"color":"#000"},{"offset":0.9496,"color":"#000"},{"offset":0.9496,"color":"#fff"},{"offset":0.952,"color":"#fff"},{"offset":0.952,"color":"#000"},{"offset":0.9536,"color":"#000"},{"offset":0.9536,"color":"#fff"},{"offset":0.956,"color":"#fff"},{"offset":0.956,"color":"#000"},{"offset":0.9576,"color":"#000"},{"offset":0.9576,"color":"#fff"},{"offset":0.96,"color":"#fff"},{"offset":0.96,"color":"#000"},
{"offset":0.9616,"color":"#000"},{"offset":0.9616,"color":"#fff"},{"offset":0.964,"color":"#fff"},{"offset":0.964,"color":"#000"},{"offset":0.9656,"color":"#000"},{"offset":0.9656,"color":"#fff"},{"offset":0.968,"color":"#fff"},{"offset":0.968,"color":"#000"},{"offset":0.9696,"color":"#000"},{"offset":0.9696,"color":"#fff"},{"offset":0.972,"color":"#fff"},{"offset":0.972,"color":"#000"},{"offset":0.9736,"color":"#000"},{"offset":0.9736,"color":"#fff"},{"offset":0.976,"color":"#fff"},{"offset":0.976,"color":"#000"},{"offset":0.9776,"color":"#000"},{"offset":0.9776,"color":"#fff"},{"offset":0.98,"color":"#fff"},{"offset":0.98,"color":"#000"},
{"offset":0.9816,"color":"#000"},{"offset":0.9816,"color":"#fff"},{"offset":0.984,"color":"#fff"},{"offset":0.984,"color":"#000"},{"offset":0.9856,"color":"#000"},{"offset":0.9856,"color":"#fff"},{"offset":0.988,"color":"#fff"},{"offset":0.988,"color":"#000"},{"offset":0.9896,"color":"#000"},{"offset":0.9896,"color":"#fff"},{"offset":0.992,"color":"#fff"},{"offset":0.992,"color":"#000"},{"offset":0.9936,"color":"#000"},{"offset":0.9936,"color":"#fff"},{"offset":0.996,"color":"#fff"},{"offset":0.996,"color":"#000"},{"offset":0.9976,"color":"#000"},{"offset":0.9976,"color":"#fff"},
{"offset":1,"color":"#fff"}
]}},
"encoding": {
"x": {"field": "theta", "type": "quantitative", "scale": {"domain": [0, 1], "nice": false, "zero": false}, "axis": null},
"y": {"field": "d0", "type": "quantitative", "scale": {"domain": [0, 1], "nice": false, "zero": false}, "axis": null},
"y2": {"datum": 1}
}
},
{
"data": {"name": "dashed"},
"mark": {"type": "line", "color": "black", "strokeWidth": 4, "strokeDash": [9, 10], "strokeCap": "butt", "interpolate": "linear"},
"encoding": {
"x": {"field": "theta", "type": "quantitative", "scale": {"domain": [0, 1], "nice": false, "zero": false}, "axis": null},
"y": {"field": "d", "type": "quantitative", "scale": {"domain": [0, 1], "nice": false, "zero": false}, "axis": null}
}
},
{
"data": {"name": "boundary"},
"mark": {"type": "line", "color": "black", "strokeWidth": 3, "interpolate": "linear"},
"encoding": {
"x": {"field": "theta", "type": "quantitative", "scale": {"domain": [0, 1], "nice": false, "zero": false}, "axis": null},
"y": {"field": "d0", "type": "quantitative", "scale": {"domain": [0, 1], "nice": false, "zero": false}, "axis": null}
}
},
{
"data": {"values": [{"t": 0, "d1": 0, "d2": 1}]},
"mark": {"type": "rule", "color": "black", "strokeWidth": 2.5},
"encoding": {
"x": {"field": "t", "type": "quantitative", "scale": {"domain": [0, 1], "nice": false, "zero": false}, "axis": null},
"y": {"field": "d1", "type": "quantitative", "scale": {"domain": [0, 1], "nice": false, "zero": false}, "axis": null},
"y2": {"field": "d2"}
}
},
{
"data": {"values": [{"t": 1, "d1": 0, "d2": 1}]},
"mark": {"type": "rule", "color": "black", "strokeWidth": 1.5},
"encoding": {
"x": {"field": "t", "type": "quantitative", "scale": {"domain": [0, 1], "nice": false, "zero": false}, "axis": null},
"y": {"field": "d1", "type": "quantitative", "scale": {"domain": [0, 1], "nice": false, "zero": false}, "axis": null},
"y2": {"field": "d2"}
}
},
{
"data": {"values": [{"d": 1, "t1": 0, "t2": 1}]},
"mark": {"type": "rule", "color": "black", "strokeWidth": 2},
"encoding": {
"y": {"field": "d", "type": "quantitative", "scale": {"domain": [0, 1], "nice": false, "zero": false}, "axis": null},
"x": {"field": "t1", "type": "quantitative", "scale": {"domain": [0, 1], "nice": false, "zero": false}, "axis": null},
"x2": {"field": "t2"}
}
},
{
"data": {"values": [{"d": -0.0112, "t1": 0, "t2": 1}]},
"mark": {"type": "rule", "color": "#aaaaaa", "strokeWidth": 2, "strokeDash": [5, 5]},
"encoding": {
"y": {"field": "d", "type": "quantitative", "scale": {"domain": [0, 1], "nice": false, "zero": false}, "axis": null},
"x": {"field": "t1", "type": "quantitative", "scale": {"domain": [0, 1], "nice": false, "zero": false}, "axis": null},
"x2": {"field": "t2"}
}
},
{
"data": {"values": [{"d": 0, "t1": -0.002, "t2": 1.002}]},
"mark": {"type": "rule", "color": "black", "strokeWidth": 4.5},
"encoding": {
"y": {"field": "d", "type": "quantitative", "scale": {"domain": [0, 1], "nice": false, "zero": false}, "axis": null},
"x": {"field": "t1", "type": "quantitative", "scale": {"domain": [0, 1], "nice": false, "zero": false}, "axis": null},
"x2": {"field": "t2"}
}
},
{
"data": {"values": [{"d": -0.1191, "t1": 0.2973, "t2": 0.3684}]},
"mark": {"type": "rule", "color": "black", "strokeWidth": 1.5},
"encoding": {
"y": {"field": "d", "type": "quantitative", "scale": {"domain": [0, 1], "nice": false, "zero": false}, "axis": null},
"x": {"field": "t1", "type": "quantitative", "scale": {"domain": [0, 1], "nice": false, "zero": false}, "axis": null},
"x2": {"field": "t2"}
}
},
{
"data": {"values": [{"t1": 0.0156, "t2": 0.4538, "d1": 0.5707, "d2": 0.7593}]},
"mark": {"type": "rect", "fill": "white", "stroke": "black", "strokeWidth": 2, "opacity": 1},
"encoding": {
"x": {"field": "t1", "type": "quantitative", "scale": {"domain": [0, 1], "nice": false, "zero": false}, "axis": null},
"x2": {"field": "t2"},
"y": {"field": "d1", "type": "quantitative", "scale": {"domain": [0, 1], "nice": false, "zero": false}, "axis": null},
"y2": {"field": "d2"}
}
},
{
"data": {"values": [{"label": "Région de collaboration", "t": 0.2333, "d": 0.6749}, {"label": "des partenaires externes", "t": 0.2333, "d": 0.603}]},
"mark": {"type": "text", "font": "Times New Roman, Liberation Serif, serif", "fontSize": 26, "align": "center", "baseline": "alphabetic", "color": "black"},
"encoding": {
"x": {"field": "t", "type": "quantitative", "scale": {"domain": [0, 1], "nice": false, "zero": false}, "axis": null},
"y": {"field": "d", "type": "quantitative", "scale": {"domain": [0, 1], "nice": false, "zero": false}, "axis": null},
"text": {"field": "label"}
}
},
{
"data": {"values": [{"label": "1", "t": -0.0242, "d": 0.938}, {"label": "0", "t": -0.0242, "d": -0.0645}]},
"mark": {"type": "text", "font": "Liberation Sans", "fontWeight": "bold", "fontSize": 24, "align": "center", "baseline": "alphabetic", "color": "black"},
"encoding": {
"x": {"field": "t", "type": "quantitative", "scale": {"domain": [0, 1], "nice": false, "zero": false}, "axis": null},
"y": {"field": "d", "type": "quantitative", "scale": {"domain": [0, 1], "nice": false, "zero": false}, "axis": null},
"text": {"field": "label"}
}
},
{
"data": {"values": [{"label": ".", "t": 1, "d": -0.0844}]},
"mark": {"type": "text", "font": "Liberation Sans", "fontWeight": "bold", "fontSize": 12, "align": "center", "baseline": "alphabetic", "color": "black"},
"encoding": {
"x": {"field": "t", "type": "quantitative", "scale": {"domain": [0, 1], "nice": false, "zero": false}, "axis": null},
"y": {"field": "d", "type": "quantitative", "scale": {"domain": [0, 1], "nice": false, "zero": false}, "axis": null},
"text": {"field": "label"}
}
},
{
"data": {"values": [{"label": "δ", "t": -0.0228, "d": 0.4839}, {"label": "θ", "t": 0.5107, "d": -0.0744}]},
"mark": {"type": "text", "font": "Times New Roman, Liberation Serif, serif", "fontSize": 29, "align": "center", "baseline": "alphabetic", "color": "black"},
"encoding": {
"x": {"field": "t", "type": "quantitative", "scale": {"domain": [0, 1], "nice": false, "zero": false}, "axis": null},
"y": {"field": "d", "type": "quantitative", "scale": {"domain": [0, 1], "nice": false, "zero": false}, "axis": null},
"text": {"field": "label"}
}
},
{
"data": {"values": [{"label": "δ", "t": 0.5562, "d": 0.4491}]},
"mark": {"type": "text", "font": "Times New Roman, Liberation Serif, serif", "fontSize": 31, "align": "left", "baseline": "alphabetic", "color": "black"},
"encoding": {
"x": {"field": "t", "type": "quantitative", "scale": {"domain": [0, 1], "nice": false, "zero": false}, "axis": null},
"y": {"field": "d", "type": "quantitative", "scale": {"domain": [0, 1], "nice": false, "zero": false}, "axis": null},
"text": {"field": "label"}
}
},
{
"data": {"values": [{"label": "(θ)", "t": 0.5989, "d": 0.4491}]},
"mark": {"type": "text", "font": "Times New Roman, Liberation Serif, serif", "fontSize": 29, "align": "left", "baseline": "alphabetic", "color": "black"},
"encoding": {
"x": {"field": "t", "type": "quantitative", "scale": {"domain": [0, 1], "nice": false, "zero": false}, "axis": null},
"y": {"field": "d", "type": "quantitative", "scale": {"domain": [0, 1], "nice": false, "zero": false}, "axis": null},
"text": {"field": "label"}
}
},
{
"data": {"values": [{"label": "0", "t": 0.5818, "d": 0.4218}]},
"mark": {"type": "text", "font": "Times New Roman, Liberation Serif, serif", "fontSize": 20, "align": "left", "baseline": "alphabetic", "color": "black"},
"encoding": {
"x": {"field": "t", "type": "quantitative", "scale": {"domain": [0, 1], "nice": false, "zero": false}, "axis": null},
"y": {"field": "d", "type": "quantitative", "scale": {"domain": [0, 1], "nice": false, "zero": false}, "axis": null},
"text": {"field": "label"}
}
},
{
"data": {"values": [{"label": "1", "t": 0.3353, "d": -0.0695}]},
"mark": {"type": "text", "font": "Times New Roman, Liberation Serif, serif", "fontSize": 22, "align": "center", "baseline": "alphabetic", "color": "black"},
"encoding": {
"x": {"field": "t", "type": "quantitative", "scale": {"domain": [0, 1], "nice": false, "zero": false}, "axis": null},
"y": {"field": "d", "type": "quantitative", "scale": {"domain": [0, 1], "nice": false, "zero": false}, "axis": null},
"text": {"field": "label"}
}
},
{
"data": {"values": [{"label": "1 +", "t": 0.2973, "d": -0.1563}]},
"mark": {"type": "text", "font": "Times New Roman, Liberation Serif, serif", "fontSize": 19, "align": "left", "baseline": "alphabetic", "color": "black"},
"encoding": {
"x": {"field": "t", "type": "quantitative", "scale": {"domain": [0, 1], "nice": false, "zero": false}, "axis": null},
"y": {"field": "d", "type": "quantitative", "scale": {"domain": [0, 1], "nice": false, "zero": false}, "axis": null},
"text": {"field": "label"}
}
},
{
"data": {"values": [{"label": "c", "t": 0.3457, "d": -0.1563}]},
"mark": {"type": "text", "font": "Times New Roman, Liberation Serif, serif", "fontSize": 19, "fontStyle": "italic", "align": "left", "baseline": "alphabetic", "color": "black"},
"encoding": {
"x": {"field": "t", "type": "quantitative", "scale": {"domain": [0, 1], "nice": false, "zero": false}, "axis": null},
"y": {"field": "d", "type": "quantitative", "scale": {"domain": [0, 1], "nice": false, "zero": false}, "axis": null},
"text": {"field": "label"}
}
}
]
}
